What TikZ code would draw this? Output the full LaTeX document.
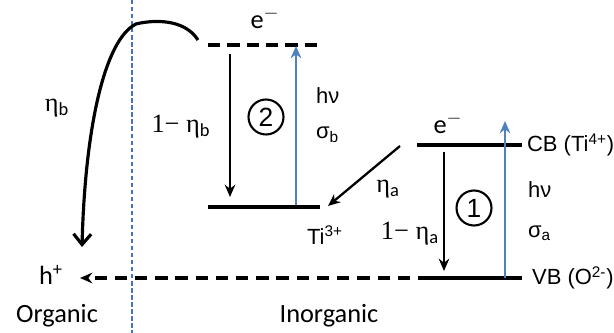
\documentclass[tikz,border=0pt]{standalone}
\usepackage{fontspec}
\setmainfont{Carlito}
\newfontfamily\arialfont{Liberation Sans}
\newfontfamily\serifgreek{Liberation Serif}
\usetikzlibrary{arrows.meta, positioning, calc}
\definecolor{photon}{RGB}{79,129,189}
\definecolor{divider}{RGB}{68,114,196}

\begin{document}
\begin{tikzpicture}[
    x=0.02cm, y=-0.02cm,
    >={Stealth[length=7pt,width=6pt]},
    level/.style={line width=2pt},
    dashedlevel/.style={level, dash pattern=on 7pt off 4pt},
    relax/.style={->, line width=1.3pt},
    excite/.style={->, line width=1.6pt, draw=photon, color=photon},
    transfer/.style={-{Straight Barb[length=6pt,width=10pt]}, line width=1.8pt},
    lbl/.style={inner sep=1pt, font=\fontsize{15}{18}\selectfont},
    alabel/.style={inner sep=1pt, font=\arialfont\fontsize{12.5}{15}\selectfont},
    etalabel/.style={inner sep=1pt, font=\serifgreek\fontsize{15}{18}\selectfont},
    stage/.style={circle, draw, line width=1.2pt, minimum size=0.7cm, inner sep=0pt, font=\arialfont\fontsize{15}{18}\selectfont}
  ]
    \useasboundingbox (0,0) rectangle (614,333);
    % organic / inorganic border
    \draw[divider, line width=0.6pt, dash pattern=on 2.5pt off 1.5pt] (132,0) -- (132,333);
    % energy levels
    \coordinate (dyeL) at (208,45);  \coordinate (dyeR) at (322,45);
    \coordinate (tiL) at (208,207);  \coordinate (tiR) at (320,207);
    \coordinate (cbL) at (417,145);  \coordinate (cbR) at (522,145);
    \coordinate (vbL) at (418,278);  \coordinate (vbR) at (522,278);
    \draw[dashedlevel] (dyeL) -- (dyeR);
    \draw[level] (tiL) -- (tiR);
    \draw[level] (cbL) -- (cbR);
    \draw[level] (vbL) -- (vbR);
    % arrow ends
    \coordinate (decbTop) at (230,54);   \coordinate (decbBot) at (230,197);
    \coordinate (excbBot) at (296,205);  \coordinate (excbTop) at (296,46);
    \coordinate (decaTop) at (444,152);  \coordinate (decaBot) at (444,271);
    \coordinate (excaBot) at (505,278);  \coordinate (excaTop) at (505,121);
    \coordinate (trapFrom) at (400,146); \coordinate (trapTo) at (328,206);
    \coordinate (injFrom) at (198,40);   \coordinate (injTo) at (82,247);
    \coordinate (holeFrom) at (410,278); \coordinate (holeTo) at (80,278);
    % transitions
    \draw[relax] (decbTop) -- (decbBot);
    \draw[excite] (excbBot) -- (excbTop);
    \draw[relax] (decaTop) -- (decaBot);
    \draw[excite] (excaBot) -- (excaTop);
    \draw[relax] (trapFrom) -- (trapTo);
    \draw[transfer] (injFrom) .. controls (184,18) and (152,20) .. (136,24)
      .. controls (104,40) and (85,130) .. (injTo);
    \draw[->, line width=1.8pt, dash pattern=on 7pt off 4.5pt] (holeFrom) -- (holeTo);
    % labels
    \node[lbl] (eTop) at (265,18) {e$^{-}$};
    \node[lbl] (eCB) at (448,123) {e$^{-}$};
    \node[stage] (stageTwo) at (266,117) {2};
    \node[stage] (stageOne) at (474,208) {1};
    \node[etalabel] (etab) at (57,108) {η\textsubscript{\normalfont b}};
    \node[etalabel] (relb) at (181,127) {1− η\textsubscript{\normalfont b}};
    \node[etalabel] (etaa) at (388,189) {η\textsubscript{\normalfont a}};
    \node[etalabel] (rela) at (410,234) {1− η\textsubscript{\normalfont a}};
    \node[alabel, anchor=west] (hvb) at (314,96) {hν};
    \node[alabel, anchor=west] (sigb) at (314,135) {σ\textsubscript{b}};
    \node[alabel, anchor=west] (hva) at (526,190) {hν};
    \node[alabel, anchor=west] (siga) at (526,233) {σ\textsubscript{a}};
    \node[alabel, anchor=west] (cbLabel) at (525,145) {CB (Ti\textsuperscript{4+})};
    \node[alabel, anchor=west] (vbLabel) at (530,278) {VB (O\textsuperscript{2-})};
    \node[alabel] (tiLabel) at (325,235) {Ti\textsuperscript{3+}};
    \node[lbl] (hole) at (51,275) {h\textsuperscript{+}};
    \node[lbl] (organic) at (57,316) {Organic};
    \node[lbl] (inorganic) at (329,316) {Inorganic};
  \end{tikzpicture}
\end{document}
